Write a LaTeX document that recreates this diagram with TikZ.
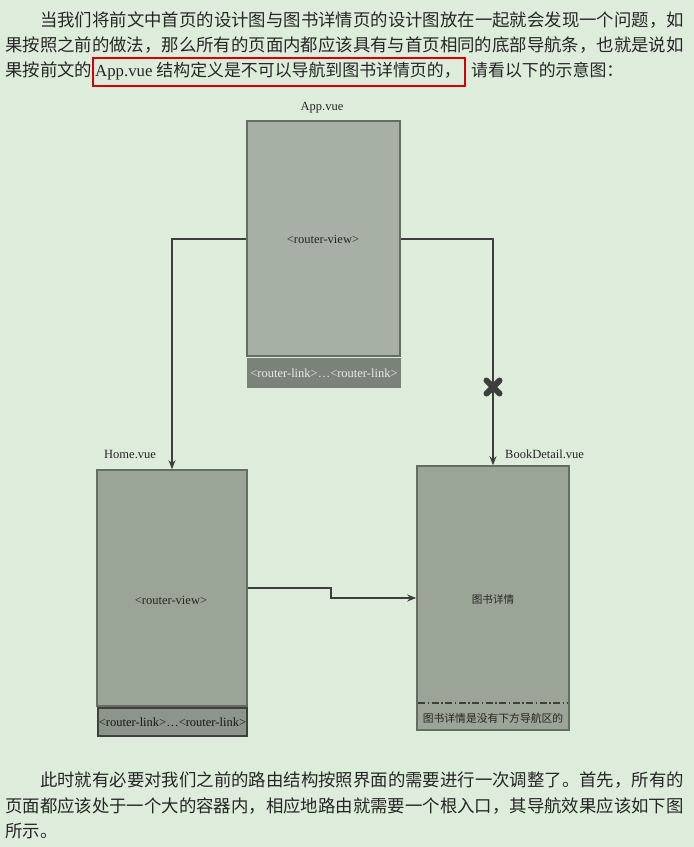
\documentclass[tikz,border=0pt]{standalone}
\usepackage{fontspec}
\setmainfont{Liberation Serif}
\newfontfamily\cjk{Noto Sans CJK SC}
\usetikzlibrary{arrows.meta,calc}
\definecolor{bg}{HTML}{DDECDB}
\definecolor{txt}{HTML}{262626}
\definecolor{boxline}{HTML}{656D63}
\definecolor{boxfillA}{HTML}{A7B0A4}
\definecolor{boxfillB}{HTML}{9AA497}
\definecolor{barA}{HTML}{7A8378}
\definecolor{barB}{HTML}{8C958A}
\definecolor{linecol}{HTML}{3C3F3C}
\begin{document}
\begin{tikzpicture}[x=1pt,y=-1pt,
  para/.style={font=\cjk\fontsize{17.4}{20}\selectfont, text=txt, inner sep=0, anchor=base west},
  box/.style={draw=boxline, line width=1.6pt, inner sep=0},
  lab/.style={font=\fontsize{12.5}{14}\selectfont, text=txt, inner sep=0},
  cjklab/.style={font=\cjk\fontsize{10.6}{12}\selectfont, text=txt, inner sep=0},
  conn/.style={draw=linecol, line width=2pt, -{Stealth[length=9pt,width=7pt]}},
  redbox/.style={draw=red!85!black, line width=1.6pt, inner sep=0}
]
\fill[bg] (0,0) rectangle (694,847);
\useasboundingbox (0,0) rectangle (694,847);

% top paragraph
\node[para] (p1) at (40,26) {当我们将前文中首页的设计图与图书详情页的设计图放在一起就会发现一个问题，如};
\node[para] (p2) at (5,51) {果按照之前的做法，那么所有的页面内都应该具有与首页相同的底部导航条，也就是说如};
\node[para] (p3a) at (5,76) {果按前文的};
\node[redbox, minimum width=372, minimum height=28, anchor=north west] (hl) at (92,57) {};
\node[para] (p3b) at (95,76) {{\rmfamily\fontsize{16.8}{20}\selectfont App.vue} \fontsize{16.9}{20}\selectfont 结构定义是不可以导航到图书详情页的，};
\node[para, font=\cjk\fontsize{16.9}{20}\selectfont] (p3c) at (471,76) {请看以下的示意图：};

% App.vue
\node[box, fill=boxfillA, minimum width=153, minimum height=235] (app) at (323.5,238.5) {};
\node[lab, anchor=base] (applbl) at (322,110) {App.vue};
\node[lab] (appview) at (323,239) {<router-view>};
\node[box, fill=barA, draw=barA, minimum width=152, minimum height=28, text=white!82!barA,
      font=\fontsize{12.5}{14}\selectfont] (appbar) at (324,373) {<router-link>…<router-link>};

% Home.vue
\node[box, fill=boxfillB, minimum width=150, minimum height=236] (home) at (172,588) {};
\node[lab, anchor=base west] (homelbl) at (104,458) {Home.vue};
\node[lab] (homeview) at (171,600) {<router-view>};
\node[box, fill=barB, draw=black!75, minimum width=149, minimum height=28, text=black!90,
      font=\fontsize{12.5}{14}\selectfont] (homebar) at (172.5,722) {<router-link>…<router-link>};

% BookDetail.vue
\node[box, fill=boxfillB, minimum width=152, minimum height=264] (book) at (493,598) {};
\node[lab, anchor=base west] (booklbl) at (505,458) {BookDetail.vue};
\node[cjklab] (bookmain) at (493,599) {图书详情};
\draw[linecol, line width=1.2pt, dash pattern=on 7pt off 2.5pt on 1.5pt off 2.5pt] (418,703) -- (568,703);
\node[cjklab, font=\cjk\fontsize{10.8}{12}\selectfont] (booknote) at (493,718) {图书详情是没有下方导航区的};

% connectors
\draw[conn] (app.west) -| (home.north);
\draw[conn] (app.east) -| (book.north);
\coordinate (xmark) at (493,387);
\draw[linecol, line width=6pt, line cap=round]
  ($(xmark)+(-6.5,-6.5)$) -- ($(xmark)+(6.5,6.5)$)
  ($(xmark)+(-6.5,6.5)$) -- ($(xmark)+(6.5,-6.5)$);
\draw[conn] (home.east) -- ++(83,0) |- (book.west);

% bottom paragraph
\node[para] (p4) at (40,786) {此时就有必要对我们之前的路由结构按照界面的需要进行一次调整了。首先，所有的};
\node[para] (p5) at (5,812) {页面都应该处于一个大的容器内，相应地路由就需要一个根入口，其导航效果应该如下图};
\node[para] (p6) at (5,837) {所示。};
\end{tikzpicture}
\end{document}
